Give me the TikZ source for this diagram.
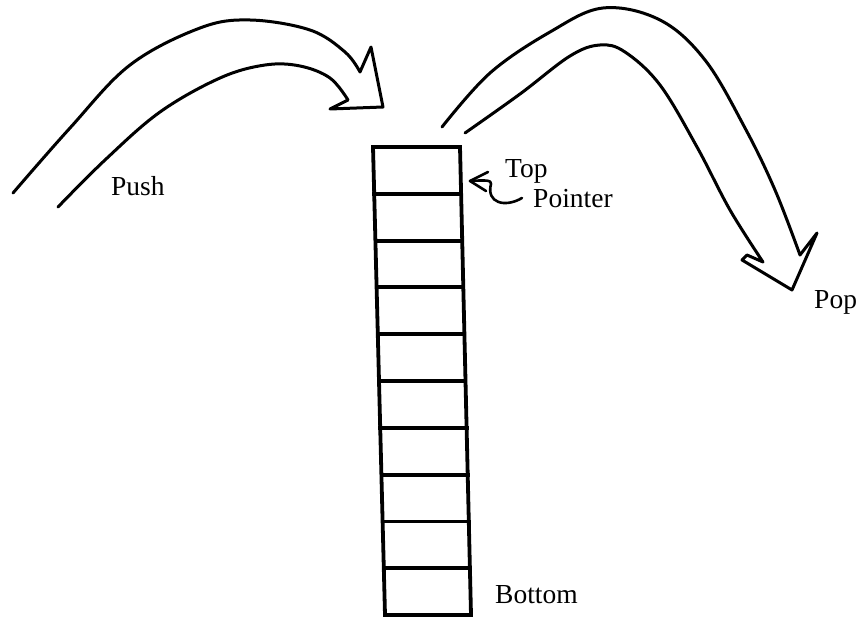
\documentclass[tikz,border=0pt]{standalone}
\usepackage{fontspec}
\setmainfont{Liberation Serif}
\usetikzlibrary{calc}
\begin{document}
\begin{tikzpicture}[x=1pt,y=-1pt,
  hand/.style={line width=3pt,line join=round,line cap=round},
  stackline/.style={line width=3.8pt,line join=miter,line cap=rect},
  lbl/.style={anchor=base west,inner sep=0pt,font=\fontsize{27.5}{30}\selectfont}]
\useasboundingbox (0,0) rectangle (866,618);
% stack
\coordinate (tl) at (373,147);
\coordinate (tr) at (460,147);
\coordinate (bl) at (385,615);
\coordinate (br) at (471,615);
\draw[stackline] (tl) -- (tr) -- (br) -- (bl) -- cycle;
\foreach \i in {1,...,9}{
  \draw[stackline] ($(tl)!\i/10!(bl)$) -- ($(tr)!\i/10!(br)$);
}
% push arrow
\draw[hand] plot[smooth,tension=0.6] coordinates {(13,193) (70,128) (130,65) (200,28) (250,20) (310,30) (345,52) (360,72)}
  -- (371,47) -- (383,107) -- (330,109) -- (348,100)
  plot[smooth,tension=0.6] coordinates {(348,100) (330,78) (300,66) (265,65) (220,78) (160,112) (105,160) (58,207)};
% pop arrow
\draw[hand] plot[smooth,tension=0.6] coordinates {(442,127) (490,73) (550,32) (603,8) (660,20) (705,60) (745,128) (775,190) (800,255)}
  -- (817,233) -- (792,290) -- (742,260) -- (747,255) -- (763,262)
  plot[smooth,tension=0.6] coordinates {(763,262) (730,210) (697,147) (660,85) (625,52) (600,45) (570,56) (520,94) (465,133)};
% top pointer arrow
\coordinate (tiptop) at (470,181);
\draw[hand,line width=2.6pt] (488,172) -- (tiptop) -- (486,191);
\draw[hand,line width=2.6pt] (522,198) .. controls (505,208) and (486,203) .. (491,184) .. controls (492,180) and (485,180) .. (tiptop);
% labels
\node[lbl] (push) at (111,195) {Push};
\node[lbl] (top) at (505,177) {Top};
\node[lbl] (pointer) at (533,207) {Pointer};
\node[lbl] (pop) at (814,308) {Pop};
\node[lbl] (bottom) at (495,603) {Bottom};
\end{tikzpicture}
\end{document}
